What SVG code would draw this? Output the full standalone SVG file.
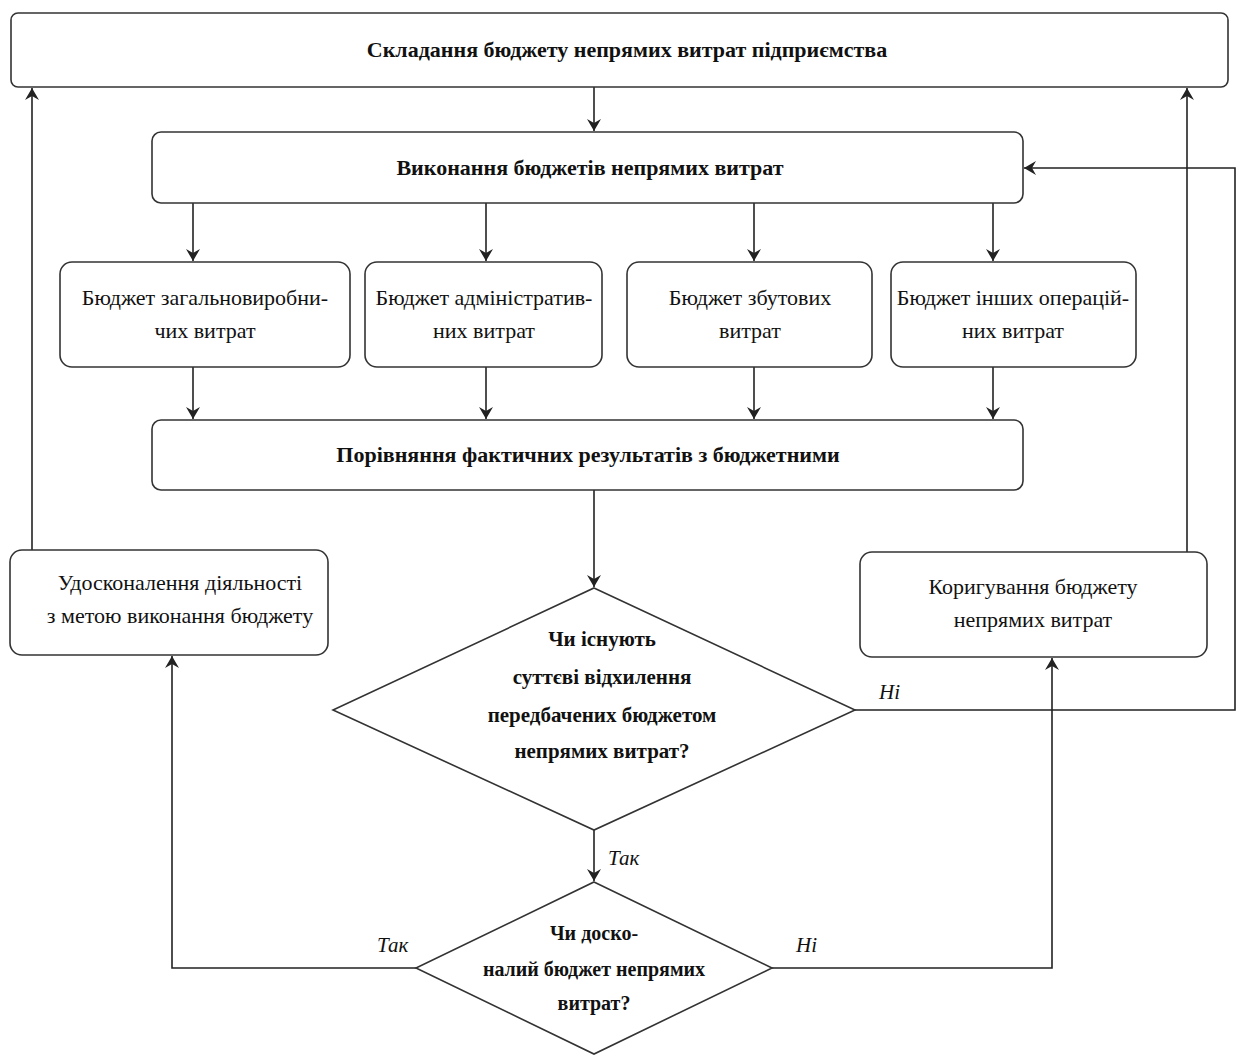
<svg xmlns="http://www.w3.org/2000/svg" width="1237" height="1057" viewBox="0 0 1237 1057">
<style>
.box{fill:#fff;stroke:#333;stroke-width:1.6}
.t{font-family:"Liberation Serif","Times New Roman",serif;font-size:22px;fill:#111;text-anchor:middle}
.b{font-weight:bold}
.d1{font-size:21px}
.d2{font-size:20px}
.i{font-style:italic;text-anchor:start;font-size:21px}
.c{fill:none;stroke:#222;stroke-width:1.6}
</style>
<defs>
<marker id="ah" viewBox="0 0 12 16" refX="12" refY="8" markerWidth="12" markerHeight="16" markerUnits="userSpaceOnUse" orient="auto">
<path d="M0,1 L12,8 L0,15 L4,8 Z" fill="#222"/>
</marker>
</defs>
<rect width="1237" height="1057" fill="#fff"/>
<g id="connectors">
<path class="c" d="M594,87 V131" marker-end="url(#ah)"/>
<path class="c" d="M193,203 V261" marker-end="url(#ah)"/>
<path class="c" d="M486,203 V261" marker-end="url(#ah)"/>
<path class="c" d="M754,203 V261" marker-end="url(#ah)"/>
<path class="c" d="M993,203 V261" marker-end="url(#ah)"/>
<path class="c" d="M193,367 V419" marker-end="url(#ah)"/>
<path class="c" d="M486,367 V419" marker-end="url(#ah)"/>
<path class="c" d="M754,367 V419" marker-end="url(#ah)"/>
<path class="c" d="M993,367 V419" marker-end="url(#ah)"/>
<path class="c" d="M594,490 V587" marker-end="url(#ah)"/>
<path class="c" d="M32,550 V88" marker-end="url(#ah)"/>
<path class="c" d="M1187,552 V88" marker-end="url(#ah)"/>
<path class="c" d="M855,710 H1235 V168 H1024" marker-end="url(#ah)"/>
<path class="c" d="M594,830 V881" marker-end="url(#ah)"/>
<path class="c" d="M416,968 H172 V656" marker-end="url(#ah)"/>
<path class="c" d="M772,968 H1052 V658" marker-end="url(#ah)"/>
<text class="t i" x="879" y="699">Ні</text>
<text class="t i" x="608" y="865">Так</text>
<text class="t i" x="377" y="952">Так</text>
<text class="t i" x="796" y="952">Ні</text>
</g>
<g id="n_top">
<rect class="box" x="11" y="13" width="1217" height="74" rx="7"/>
<text class="t b" x="627" y="57">Складання бюджету непрямих витрат підприємства</text>
</g>
<g id="n_exec">
<rect class="box" x="152" y="132" width="871" height="71" rx="9"/>
<text class="t b" x="590" y="175">Виконання бюджетів непрямих витрат</text>
</g>
<g id="n_b1">
<rect class="box" x="60" y="262" width="290" height="105" rx="12"/>
<text class="t" x="205" y="305">Бюджет загальновиробни-</text>
<text class="t" x="205" y="338">чих витрат</text>
</g>
<g id="n_b2">
<rect class="box" x="365" y="262" width="237" height="105" rx="12"/>
<text class="t" x="484" y="305">Бюджет адміністратив-</text>
<text class="t" x="484" y="338">них витрат</text>
</g>
<g id="n_b3">
<rect class="box" x="627" y="262" width="245" height="105" rx="12"/>
<text class="t" x="750" y="305">Бюджет збутових</text>
<text class="t" x="750" y="338">витрат</text>
</g>
<g id="n_b4">
<rect class="box" x="891" y="262" width="245" height="105" rx="12"/>
<text class="t" x="1013" y="305">Бюджет інших операцій-</text>
<text class="t" x="1013" y="338">них витрат</text>
</g>
<g id="n_cmp">
<rect class="box" x="152" y="420" width="871" height="70" rx="9"/>
<text class="t b" x="588" y="462">Порівняння фактичних результатів з бюджетними</text>
</g>
<g id="n_improve">
<rect class="box" x="10" y="550" width="318" height="105" rx="12"/>
<text class="t" x="180" y="590">Удосконалення діяльності</text>
<text class="t" x="180" y="623">з метою виконання бюджету</text>
</g>
<g id="n_adjust">
<rect class="box" x="860" y="552" width="347" height="105" rx="12"/>
<text class="t" x="1033" y="594">Коригування бюджету</text>
<text class="t" x="1033" y="627">непрямих витрат</text>
</g>
<g id="n_d1">
<path class="box" d="M594,588 L855,710 L594,830 L333,710 Z"/>
<text class="t b d1" x="602" y="646">Чи існують</text>
<text class="t b d1" x="602" y="684">суттєві відхилення</text>
<text class="t b d1" x="602" y="722">передбачених бюджетом</text>
<text class="t b d1" x="602" y="758">непрямих витрат?</text>
</g>
<g id="n_d2">
<path class="box" d="M594,882 L772,968 L594,1054 L416,968 Z"/>
<text class="t b d2" x="594" y="940">Чи доско-</text>
<text class="t b d2" x="594" y="976">налий бюджет непрямих</text>
<text class="t b d2" x="594" y="1010">витрат?</text>
</g>
</svg>
